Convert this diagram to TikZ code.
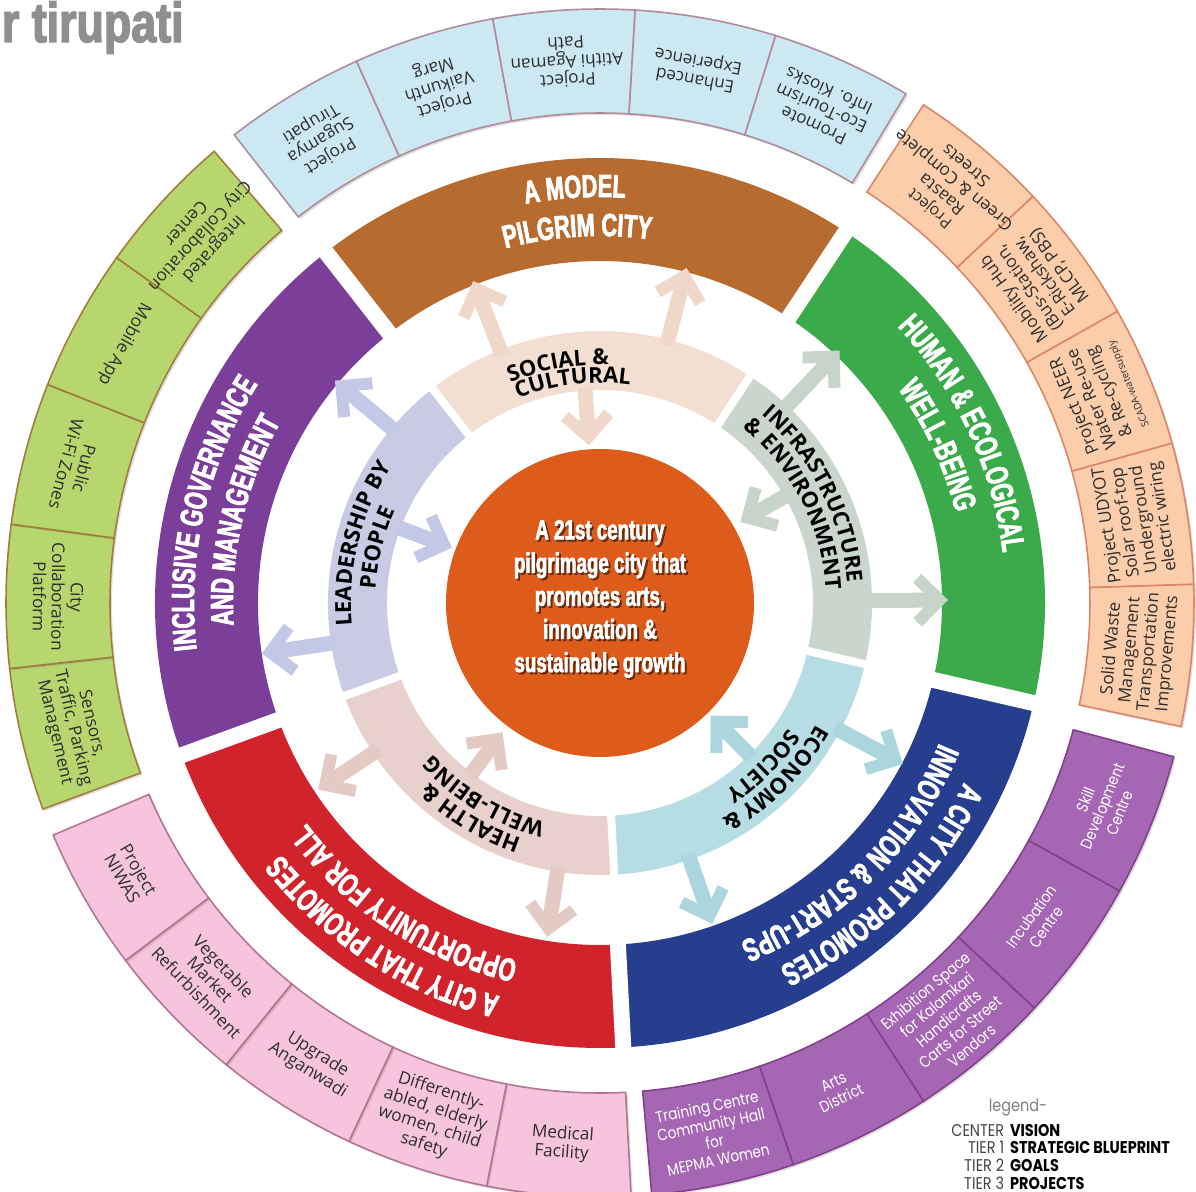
\documentclass[tikz,border=0pt]{standalone}
\usepackage{fontspec}
\setmainfont{Open Sans}
\newfontfamily\impactfont[FakeStretch=0.68,FakeBold=2.2]{Liberation Sans}
\newfontfamily\titlefont[FakeStretch=0.8,FakeBold=2.5]{Liberation Sans}
\newfontfamily\gothfont[FakeStretch=0.85]{Poppins}
\usetikzlibrary{arrows.meta,decorations.text,shadows}

\definecolor{cvision}{HTML}{DD5B1B}
\definecolor{csocial}{HTML}{F3DFD2}
\definecolor{cinfra}{HTML}{CAD6CD}
\definecolor{cecon}{HTML}{B7DDE4}
\definecolor{chealth}{HTML}{E8D0CC}
\definecolor{cleader}{HTML}{C9CBE5}
\definecolor{asocial}{HTML}{EFD8C9}
\definecolor{ainfra}{HTML}{C6D4C9}
\definecolor{aecon}{HTML}{ABD6DE}
\definecolor{ahealth}{HTML}{E4CAC5}
\definecolor{aleader}{HTML}{C3C8E6}
\definecolor{cbrown}{HTML}{B86B2F}
\definecolor{cgreen}{HTML}{3BAA4A}
\definecolor{cnavy}{HTML}{273E8E}
\definecolor{cred}{HTML}{D1232B}
\definecolor{cpurple}{HTML}{7B3F99}
\definecolor{bluefill}{HTML}{CCE8F2}
\definecolor{blueline}{HTML}{B08B9B}
\definecolor{orangefill}{HTML}{FCCDAB}
\definecolor{orangeline}{HTML}{DB8767}
\definecolor{mauvefill}{HTML}{A567B3}
\definecolor{mauveline}{HTML}{84408D}
\definecolor{pinkfill}{HTML}{F7C4DE}
\definecolor{pinkline}{HTML}{B27592}
\definecolor{limefill}{HTML}{B7D66E}
\definecolor{limeline}{HTML}{A27E3E}
\definecolor{projink}{HTML}{2E2E2E}
\definecolor{titlegray}{HTML}{8F8F8F}
\definecolor{legendgray}{HTML}{444444}

\tikzstyle{boxshadow} = [drop shadow={opacity=0.25, shadow xshift=1pt, shadow yshift=-1pt}]
\tikzstyle{pilgrimbox} = [fill=bluefill, draw=blueline, line width=0.8pt, boxshadow]
\tikzstyle{humanbox} = [fill=orangefill, draw=orangeline, line width=0.8pt, boxshadow]
\tikzstyle{innovbox} = [fill=mauvefill, draw=mauveline, line width=0.8pt, boxshadow]
\tikzstyle{opportbox} = [fill=pinkfill, draw=pinkline, line width=0.8pt, boxshadow]
\tikzstyle{governbox} = [fill=limefill, draw=limeline, line width=0.8pt, boxshadow]
\tikzstyle{projtext} = [align=center, inner sep=0pt, text=projink, font=\fontsize{8.6}{9.4}\selectfont]
\tikzstyle{pilgrimtext} = [projtext]
\tikzstyle{humantext} = [projtext]
\tikzstyle{opporttext} = [projtext]
\tikzstyle{governtext} = [projtext]
\tikzstyle{innovtext} = [projtext, text=white, font=\gothfont\fontsize{8}{9}\selectfont]
\tikzstyle{pilgrimgoal} = [fill=cbrown]
\tikzstyle{humangoal} = [fill=cgreen]
\tikzstyle{innovgoal} = [fill=cnavy]
\tikzstyle{opportgoal} = [fill=cred]
\tikzstyle{governgoal} = [fill=cpurple]
\tikzstyle{socialband} = [fill=csocial]
\tikzstyle{infraband} = [fill=cinfra]
\tikzstyle{econband} = [fill=cecon]
\tikzstyle{healthband} = [fill=chealth]
\tikzstyle{leaderband} = [fill=cleader]
\tikzstyle{flow} = [line width=7.5pt, -{Straight Barb[length=11pt,width=22pt,line width=6pt]}]
\tikzstyle{visiondisc} = [circle, fill=cvision, minimum size=154pt, inner sep=0pt]
\tikzstyle{visiontext} = [align=center, text=white, font=\impactfont\bfseries\fontsize{13.8}{16.6}\selectfont]
\tikzstyle{visionshade} = [visiontext, text=black, opacity=0.45]
\tikzstyle{titletext} = [inner sep=0pt, text=titlegray, font=\titlefont\bfseries\fontsize{28}{28}\selectfont]
\tikzstyle{legendhead} = [inner sep=0pt, text=gray, font=\gothfont\fontsize{8.5}{8.5}\selectfont]
\tikzstyle{legendbody} = [inner sep=0pt, text=legendgray, font=\gothfont\fontsize{8.5}{8.5}\selectfont]
\tikzset{
  goallabel/.style={decorate, decoration={text along path, text align=center,
      text={|\impactfont\bfseries\fontsize{16}{16}\selectfont\color{white}|#1}}},
  bandlabel/.style={decorate, decoration={text along path, text align=center,
      text={|\bfseries\fontsize{11}{11}\selectfont\color{black}|#1}}}}

% annular piece: style, from angle, to angle, inner radius, outer radius
\newcommand{\annseg}[5]{%
  \path[#1] (#2:#4) arc[start angle=#2, end angle=#3, radius=#4]
    -- (#3:#5) arc[start angle=#3, end angle=#2, radius=#5] -- cycle;}
% one group of project boxes: name, start angle, step, texts
\newcommand{\projring}[4]{%
  \foreach \txt [count=\i] in {#4} {
    \pgfmathsetmacro{\aone}{#2+(\i-1)*(#3)}
    \pgfmathsetmacro{\atwo}{#2+\i*(#3)}
    \annseg{#1box}{\aone}{\atwo}{490}{594}
  }
  \foreach \txt [count=\i] in {#4} {
    \pgfmathsetmacro{\amid}{#2+(\i-0.5)*(#3)}
    \node[#1text, rotate=\amid+90] (#1-\i) at (\amid:542) {\txt};
  }}
% curved label: style, centre angle, radius, text
\newcommand{\arclabel}[4]{%
  \pgfmathsetmacro{\afrom}{#2+50}\pgfmathsetmacro{\ato}{#2-50}%
  \path[#1={#4}] (\afrom:#3) arc[start angle=\afrom, end angle=\ato, radius=#3];}
\newcommand{\visionwords}{A 21st century\\pilgrimage city that\\promotes arts,\\innovation \&\\sustainable growth}

\begin{document}
\begin{tikzpicture}[x=0.5pt, y=0.5pt]
  \useasboundingbox (-600,-589) rectangle (596,603);
  \node[titletext, anchor=base east] (title) at (-416,561) {r tirupati};

  % tier 3: projects
  \projring{pilgrim}{128}{-13.8}{{Project\\Sugamya\\Tirupati},{Project\\Vaikunth\\Marg},{Project\\Atithi Agaman\\Path},{Enhanced\\Experience},{Promote\\Eco-Tourism\\Info. Kiosks}}
  \projring{human}{57}{-13.8}{{\fontsize{8}{9}\selectfont Project\\Raasta\\Green \& Complete\\Streets},{Mobility Hub\\(Bus-Station,\\E-Rickshaw,\\MLCP, PBS)},{Project NEER\\Water Re-use\\\& Re-cycling\\{\fontsize{5}{6}\selectfont SCADA-watersupply}},{Project UDYOT\\Solar roof-top\\Underground\\electric wiring},{Solid Waste\\Management\\Transportation\\Improvements}}
  \projring{innov}{-15}{-14}{{Skill\\Development\\Centre},{Incubation\\Centre},{Exhibition Space\\for Kalamkari\\Handicrafts\\Carts for Street\\Vendors},{Arts\\District},{Training Centre\\Community Hall\\for\\MEPMA Women}}
  \projring{opport}{-87}{-14}{{Medical\\Facility},{Differently-\\abled, elderly\\women, child\\safety},{Upgrade\\Anganwadi},{Vegetable\\Market\\Refurbishment},{Project\\NIWAS}}
  \projring{govern}{-159.7}{-13.96}{{Sensors,\\Traffic, Parking\\Management},{City\\Collaboration\\Platform},{Public\\Wi-Fi Zones},{Mobile App},{Integrated\\City Collaboration\\Center}}

  % tier 2: goals
  \annseg{pilgrimgoal}{128}{56.5}{342}{445}
  \annseg{humangoal}{56.5}{-13}{342}{445}
  \annseg{innovgoal}{-13}{-87}{342}{445}
  \annseg{opportgoal}{-87}{-160}{342}{445}
  \annseg{governgoal}{-160}{-232}{342}{445}

  % tier 1: strategic blueprint
  \annseg{socialband}{128}{56.5}{213}{272}
  \annseg{infraband}{56.5}{-13}{213}{272}
  \annseg{econband}{-13}{-87}{213}{272}
  \annseg{healthband}{-87}{-160}{213}{272}
  \annseg{leaderband}{-160}{-232}{213}{272}

  \foreach \b in {128,56.5,-13,-87,-160} {
    \draw[white, line width=4pt] (\b:205) -- (\b:280);
    \draw[white, line width=8pt] (\b:335) -- (\b:452);
  }

  \foreach \ang/\rin/\rout/\col in {111.5/266/346/asocial, 75.5/266/346/asocial, 94/216/158/asocial,
      46.5/266/348/ainfra, 0.5/266/348/ainfra, 30/216/162/ainfra,
      -28/266/343/aecon, -70.7/266/340/aecon, -45.5/216/158/aecon,
      -146.5/266/338/ahealth, -99/266/338/ahealth, -127/216/162/ahealth,
      140/266/346/aleader, 188.5/266/342/aleader, 159.5/216/158/aleader}
    \draw[flow, draw=\col] (\ang:\rin) -- (\ang:\rout);

  % centre: vision
  \node[visiondisc] (vision) at (0,0) {};
  \node[visionshade] (visionshade) at (2,2) {\visionwords};
  \node[visiontext] (visiontext) at (0,4) {\visionwords};

  \arclabel{goallabel}{93.5}{406}{A MODEL}
  \arclabel{goallabel}{93.5}{367}{PILGRIM CITY}
  \arclabel{goallabel}{25}{406}{HUMAN {\&} ECOLOGICAL}
  \arclabel{goallabel}{25}{367}{WELL-BEING}
  \arclabel{goallabel}{-45}{406}{A CITY THAT PROMOTES}
  \arclabel{goallabel}{-45}{367}{INNOVATION {\&} START-UPS}
  \arclabel{goallabel}{-123}{406}{A CITY THAT PROMOTES}
  \arclabel{goallabel}{-123}{367}{OPPORTUNITY FOR ALL}
  \arclabel{goallabel}{167}{406}{INCLUSIVE GOVERNANCE}
  \arclabel{goallabel}{167}{367}{AND MANAGEMENT}

  \arclabel{bandlabel}{100}{238}{SOCIAL {\&}}
  \arclabel{bandlabel}{97}{220}{CULTURAL}
  \arclabel{bandlabel}{27}{248}{INFRASTRUCTURE}
  \arclabel{bandlabel}{27}{226}{{\&} ENVIRONMENT}
  \arclabel{bandlabel}{-45}{248}{ECONOMY {\&}}
  \arclabel{bandlabel}{-45}{226}{SOCIETY}
  \arclabel{bandlabel}{-121}{248}{HEALTH {\&}}
  \arclabel{bandlabel}{-121}{226}{WELL-BEING}
  \arclabel{bandlabel}{166}{249}{LEADERSHIP BY}
  \arclabel{bandlabel}{166}{225}{PEOPLE}

  % legend
  \node[legendhead] (legendhead) at (418,-505) {legend-};
  \node[legendbody, anchor=north west] (legendbody) at (351,-521) {%
    \begin{tabular}{@{}r@{\hspace{3pt}}l@{}}
      CENTER & \textcolor{black}{\textbf{VISION}}\\
      TIER 1 & \textcolor{black}{\textbf{STRATEGIC BLUEPRINT}}\\
      TIER 2 & \textcolor{black}{\textbf{GOALS}}\\
      TIER 3 & \textcolor{black}{\textbf{PROJECTS}}
    \end{tabular}};
\end{tikzpicture}
\end{document}
